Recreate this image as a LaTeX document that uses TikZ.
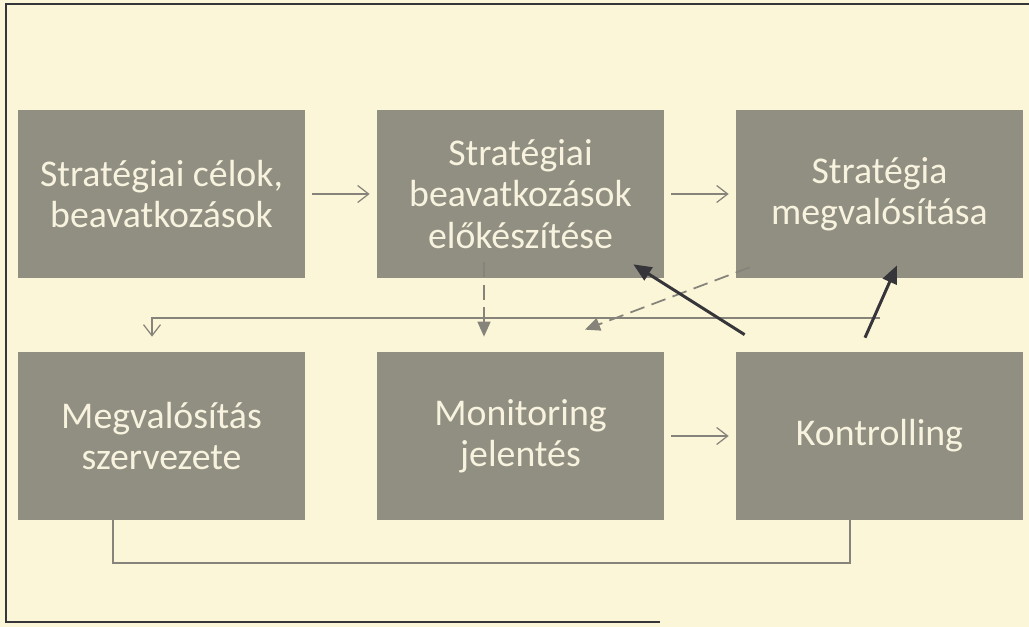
\documentclass[tikz,border=0pt]{standalone}
\usepackage{fontspec}
\setmainfont{Carlito}
\usepackage{xcolor}
\usepackage{tikz}
\usetikzlibrary{arrows.meta,positioning}

\definecolor{paper}{HTML}{FBF6D8}
\definecolor{boxgray}{HTML}{918F82}
\definecolor{boxtext}{HTML}{F7F3DF}
\definecolor{linegray}{HTML}{85837A}
\definecolor{darkline}{HTML}{35353A}

\begin{document}
\begin{tikzpicture}[node distance=7.18cm, auto]
        \tikzset{phase/.style={rectangle, fill=boxgray, text=boxtext, minimum width=5.74cm, minimum height=3.36cm, align=center, font=\fontsize{21.5}{23.5}\selectfont}}
        \tikzset{flow/.style={draw=linegray, line width=0.7pt, -{Straight Barb[length=2.2mm,width=3.4mm]}}}
        \tikzset{dflow/.style={draw=linegray, line width=1pt, dash pattern=on 3mm off 1.5mm, -{Triangle[length=3mm,width=2.6mm]}}}
        \tikzset{back/.style={draw=darkline, line width=1.7pt, -{Triangle[length=3.6mm,width=3mm]}}}

        % paper and frame
        \fill [paper] (0,0) rectangle (20.58,-12.54);
        \useasboundingbox (0,0) rectangle (20.58,-12.54);
        \draw [darkline, line width=0.9pt] (20.58,-0.08) -- (0.12,-0.08) -- (0.12,-12.44) -- (13.2,-12.44);

        \node [phase] (goals) at (3.23,-3.88) {Stratégiai célok,\\beavatkozások};
        \node [phase, right of=goals] (prep) {Stratégiai\\beavatkozások\\előkészítése};
        \node [phase, right of=prep] (impl) {Stratégia\\megvalósítása};
        \node [phase, below of=goals, node distance=4.84cm] (org) {Megvalósítás\\szervezete};
        \node [phase, right of=org] (mon) {Monitoring\\jelentés};
        \node [phase, right of=mon] (ctrl) {Kontrolling};

        \coordinate (fork) at (17.6,-6.36);

        \draw [flow, shorten <=1.4mm, shorten >=1.4mm] (goals) -- (prep);
        \draw [flow, shorten <=1.4mm, shorten >=1.4mm] (prep) -- (impl);
        \draw [flow, shorten <=1.4mm, shorten >=1.4mm] (mon) -- (ctrl);
        \draw [flow] (fork) -| ([xshift=-1.9mm,yshift=3mm]org.north);

        \draw [dflow] ([xshift=-7.3mm,yshift=3.2mm]prep.south) -- ([xshift=-7.3mm,yshift=3mm]mon.north);
        \draw [dflow] ([xshift=2.8mm,yshift=2.2mm]impl.south west) -- ([xshift=12.9mm,yshift=4.4mm]mon.north);

        \draw [back] ([xshift=1.8mm,yshift=3.4mm]ctrl.north west) -- ([xshift=-6.2mm,yshift=2.8mm]prep.south east);
        \draw [back] ([xshift=-2.9mm,yshift=2.8mm]ctrl.north) -- ([xshift=3.5mm,yshift=2.6mm]impl.south);

        \draw [draw=linegray, line width=1pt] ([xshift=-9.7mm]org.south) -- ++(0,-0.86) -| ([xshift=-5.9mm]ctrl.south);
    \end{tikzpicture}
\end{document}
